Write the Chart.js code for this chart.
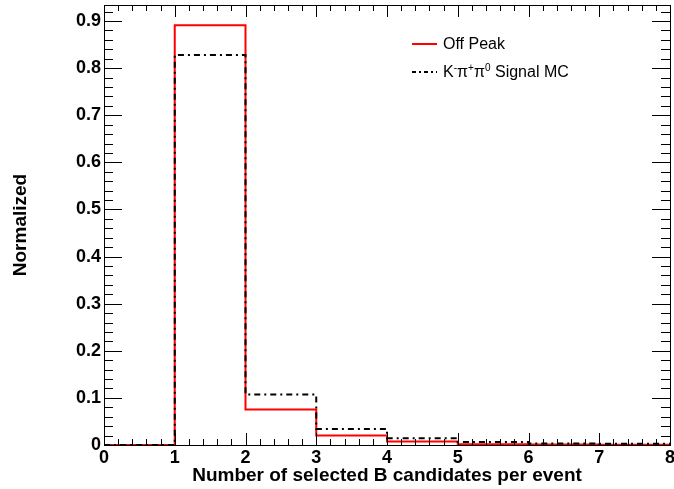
<!DOCTYPE html>
<html><head><meta charset="utf-8">
<script src="https://cdn.jsdelivr.net/npm/chart.js@4.4.1/dist/chart.umd.min.js"></script>
<style>
html,body{margin:0;padding:0;background:#fff;}
#wrap{position:relative;width:674px;height:489px;}
.lg{position:absolute;left:412px;height:24px;line-height:24px;font-family:'Liberation Sans',Arial,sans-serif;font-size:16px;color:#000;white-space:nowrap;display:flex;align-items:center;}
.lg svg{margin-right:6px;}
.lg sup{font-size:10px;line-height:0;vertical-align:6px;}
</style>
</head><body>
<div id="wrap">
<canvas id="c" width="674" height="489"></canvas>
<div class="lg" style="top:32px"><svg width="25" height="4"><line x1="0" y1="2" x2="25" y2="2" stroke="#ff0000" stroke-width="2"/></svg><span>Off Peak</span></div>
<div class="lg" style="top:60px"><svg width="25" height="4"><line x1="0" y1="2" x2="25" y2="2" stroke="#000" stroke-width="2" stroke-dasharray="4 3 2 3"/></svg><span>K<sup>-</sup>&pi;<sup>+</sup>&pi;<sup>0</sup> Signal MC</span></div>
</div>
<script>
// ---- data ----
const binEdges = [0, 1, 2, 3, 4, 5, 6, 7, 8];
const offPeak  = [0, 0.891, 0.0755, 0.020, 0.0075, 0.0015, 0.001, 0.0005];
const signalMC = [0, 0.828, 0.107, 0.034, 0.0145, 0.0065, 0.003, 0.0025];
const xTickValues = [0, 1, 2, 3, 4, 5, 6, 7, 8];
const xTickLabels = ['0', '1', '2', '3', '4', '5', '6', '7', '8'];
const yTickValues = [0, 0.1, 0.2, 0.3, 0.4, 0.5, 0.6, 0.7, 0.8, 0.9];
const yTickLabels = ['0', '0.1', '0.2', '0.3', '0.4', '0.5', '0.6', '0.7', '0.8', '0.9'];
const xTitle = 'Number of selected B candidates per event';
const yTitle = 'Normalized';

function histPoints(vals) {
  const pts = vals.map((v, i) => ({x: binEdges[i], y: v}));
  pts.push({x: binEdges[binEdges.length - 1], y: vals[vals.length - 1]});
  return pts;
}

const FONT = "'Liberation Sans', Arial, sans-serif";

const frameTicks = {
  id: 'frameTicks',
  afterDraw(chart) {
    const {ctx, chartArea: a, scales: {x, y}} = chart;
    ctx.save();
    ctx.strokeStyle = '#000';
    ctx.lineWidth = 1;
    ctx.beginPath();
    // x ticks (bottom & top)
    for (let i = 0; i < xTickValues.length; i++) {
      const v = xTickValues[i];
      const px = Math.round(x.getPixelForValue(v)) + 0.5;
      ctx.moveTo(px, a.bottom); ctx.lineTo(px, a.bottom - 12);
      ctx.moveTo(px, a.top); ctx.lineTo(px, a.top + 12);
      if (i < xTickValues.length - 1) {
        const step = (xTickValues[i + 1] - v) / 5;
        for (let k = 1; k < 5; k++) {
          const mx = Math.round(x.getPixelForValue(v + k * step)) + 0.5;
          ctx.moveTo(mx, a.bottom); ctx.lineTo(mx, a.bottom - 6);
          ctx.moveTo(mx, a.top); ctx.lineTo(mx, a.top + 6);
        }
      }
    }
    // y ticks (left & right)
    const yStep = (yTickValues[1] - yTickValues[0]) / 5;
    for (let i = 0; i < yTickValues.length; i++) {
      const v = yTickValues[i];
      const py = Math.round(y.getPixelForValue(v)) + 0.5;
      ctx.moveTo(a.left, py); ctx.lineTo(a.left + 18, py);
      ctx.moveTo(a.right, py); ctx.lineTo(a.right - 18, py);
      for (let k = 1; k < 5; k++) {
        const mv = v + k * yStep;
        if (mv > y.max) break;
        const my = Math.round(y.getPixelForValue(mv)) + 0.5;
        ctx.moveTo(a.left, my); ctx.lineTo(a.left + 9, my);
        ctx.moveTo(a.right, my); ctx.lineTo(a.right - 9, my);
      }
    }
    ctx.stroke();
    ctx.strokeRect(Math.round(a.left) + 0.5, Math.round(a.top) + 0.5,
                   Math.round(a.right - a.left), Math.round(a.bottom - a.top));
    ctx.restore();
  }
};

new Chart(document.getElementById('c'), {
  type: 'line',
  data: {
    datasets: [
      {label: 'K-pi+pi0 Signal MC', data: histPoints(signalMC), borderColor: '#000000',
       borderWidth: 2, borderDash: [6, 4, 2, 4], stepped: 'before', pointRadius: 0, fill: false, order: 0},
      {label: 'Off Peak', data: histPoints(offPeak), borderColor: '#ff0000',
       borderWidth: 2, stepped: 'before', pointRadius: 0, fill: false, order: 1}
    ]
  },
  options: {
    responsive: false,
    animation: false,
    devicePixelRatio: 1,
    layout: {padding: {left: 0, top: 5, right: 4, bottom: 0}},
    plugins: {legend: {display: false}, tooltip: {enabled: false}},
    scales: {
      x: {
        type: 'linear', position: 'bottom', min: 0, max: 8,
        grid: {display: false, drawTicks: false},
        border: {display: false},
        afterBuildTicks: s => { s.ticks = xTickValues.map(v => ({value: v})); },
        afterFit: s => { s.height = 44; s.paddingLeft = 0; s.paddingRight = 0; },
        ticks: {
          autoSkip: false, maxRotation: 0, padding: 2, color: '#000',
          font: {family: FONT, size: 18, weight: 'bold'},
          callback: v => { const i = xTickValues.indexOf(v); return i >= 0 ? xTickLabels[i] : ''; }
        },
        title: {display: true, text: xTitle, color: '#000',
                font: {family: FONT, size: 19, weight: 'bold'}, padding: {top: 0, bottom: 2}}
      },
      y: {
        type: 'linear', position: 'left', min: 0, max: 0.934,
        grid: {display: false, drawTicks: false},
        border: {display: false},
        afterBuildTicks: s => { s.ticks = yTickValues.map(v => ({value: v})); },
        afterFit: s => { s.width = 104; s.paddingTop = 0; s.paddingBottom = 0; },
        ticks: {
          padding: 3, color: '#000',
          font: {family: FONT, size: 18, weight: 'bold'},
          callback: v => { const i = yTickValues.findIndex(t => Math.abs(t - v) < 1e-9); return i >= 0 ? yTickLabels[i] : ''; }
        },
        title: {display: true, text: yTitle, color: '#000',
                font: {family: FONT, size: 19, weight: 'bold'}, padding: {top: 9, bottom: 0}}
      }
    }
  },
  plugins: [frameTicks]
});
</script>
</body></html>
